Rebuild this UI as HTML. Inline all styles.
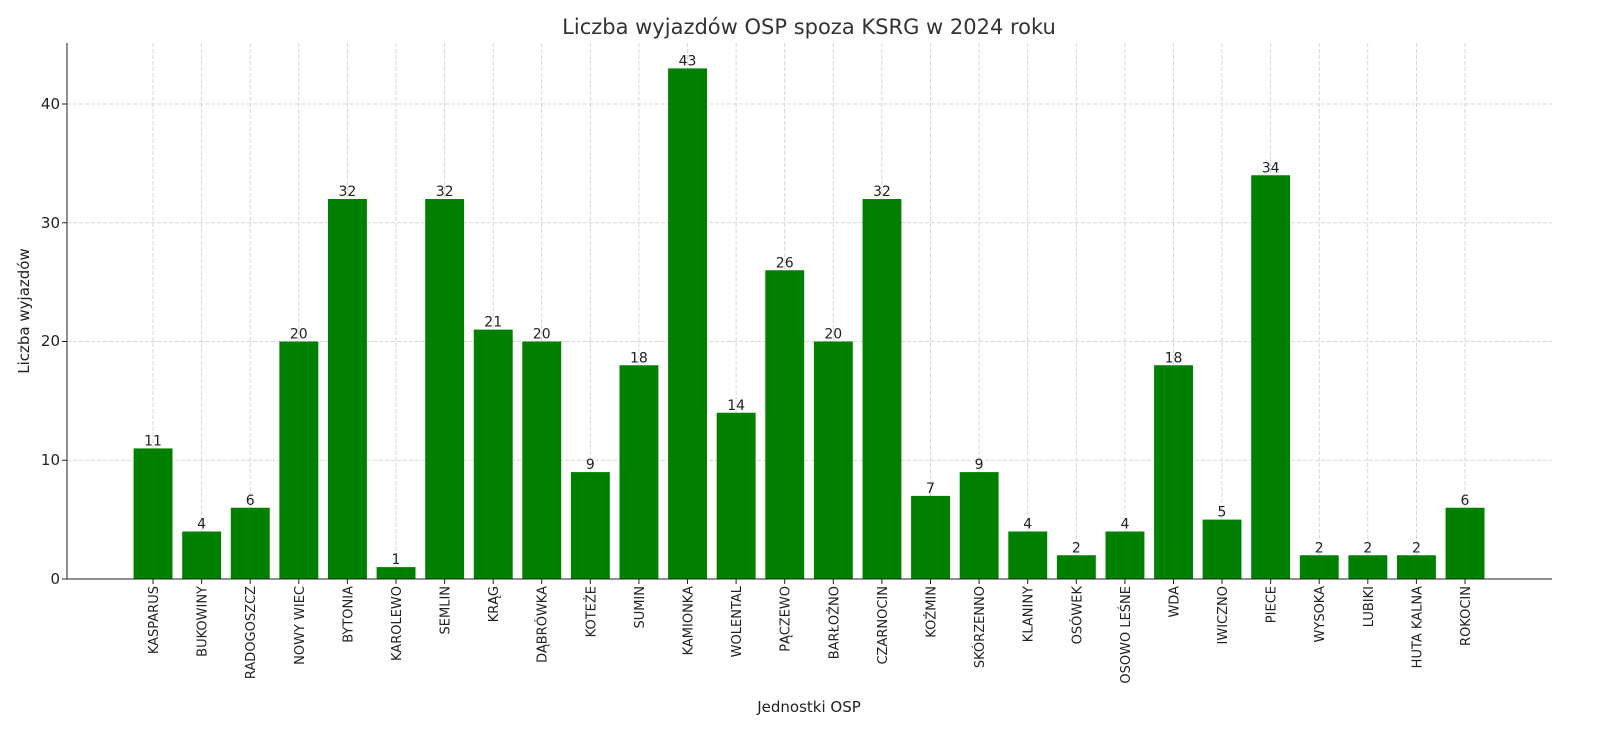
<!DOCTYPE html>
<html><head><meta charset="utf-8"><style>
body{margin:0;background:#fff}
svg{display:block;font-family:"DejaVu Sans","Liberation Sans",sans-serif}
.b rect{fill:#008000}
.b .v{font-size:14px;text-anchor:middle;fill:#222}
.b .n{font-size:13px;text-anchor:end;fill:#222}
.b line{stroke:#222}
</style></head><body>
<svg width="1600" height="746" viewBox="0 0 1600 746" xmlns="http://www.w3.org/2000/svg">
<rect width="1600" height="746" fill="#fff"/>
<g stroke="#cccccc" stroke-width="0.8" stroke-dasharray="4,2">
<line x1="67" x2="1552" y1="460.25" y2="460.25"/>
<line x1="67" x2="1552" y1="341.5" y2="341.5"/>
<line x1="67" x2="1552" y1="222.75" y2="222.75"/>
<line x1="67" x2="1552" y1="104" y2="104"/>
<line x1="153" x2="153" y1="43" y2="579"/><line x1="201.6" x2="201.6" y1="43" y2="579"/><line x1="250.2" x2="250.2" y1="43" y2="579"/><line x1="298.8" x2="298.8" y1="43" y2="579"/><line x1="347.4" x2="347.4" y1="43" y2="579"/><line x1="396" x2="396" y1="43" y2="579"/><line x1="444.6" x2="444.6" y1="43" y2="579"/><line x1="493.2" x2="493.2" y1="43" y2="579"/><line x1="541.7" x2="541.7" y1="43" y2="579"/><line x1="590.3" x2="590.3" y1="43" y2="579"/><line x1="638.9" x2="638.9" y1="43" y2="579"/><line x1="687.5" x2="687.5" y1="43" y2="579"/><line x1="736.1" x2="736.1" y1="43" y2="579"/><line x1="784.7" x2="784.7" y1="43" y2="579"/><line x1="833.3" x2="833.3" y1="43" y2="579"/><line x1="881.9" x2="881.9" y1="43" y2="579"/><line x1="930.5" x2="930.5" y1="43" y2="579"/><line x1="979.1" x2="979.1" y1="43" y2="579"/><line x1="1027.7" x2="1027.7" y1="43" y2="579"/><line x1="1076.3" x2="1076.3" y1="43" y2="579"/><line x1="1124.9" x2="1124.9" y1="43" y2="579"/><line x1="1173.5" x2="1173.5" y1="43" y2="579"/><line x1="1222" x2="1222" y1="43" y2="579"/><line x1="1270.6" x2="1270.6" y1="43" y2="579"/><line x1="1319.2" x2="1319.2" y1="43" y2="579"/><line x1="1367.8" x2="1367.8" y1="43" y2="579"/><line x1="1416.4" x2="1416.4" y1="43" y2="579"/><line x1="1465" x2="1465" y1="43" y2="579"/>
</g>
<g class="b" transform="translate(153,0)"><rect x="-19.4" y="448.4" width="38.9" height="130.6"/><text class="v" y="445.4">11</text><line y1="579" y2="584"/><text class="n" transform="translate(5,586) rotate(-90)">KASPARUS</text></g>
<g class="b" transform="translate(201.6,0)"><rect x="-19.4" y="531.5" width="38.9" height="47.5"/><text class="v" y="528.5">4</text><line y1="579" y2="584"/><text class="n" transform="translate(5,586) rotate(-90)">BUKOWINY</text></g>
<g class="b" transform="translate(250.2,0)"><rect x="-19.4" y="507.75" width="38.9" height="71.25"/><text class="v" y="504.75">6</text><line y1="579" y2="584"/><text class="n" transform="translate(5,586) rotate(-90)">RADOGOSZCZ</text></g>
<g class="b" transform="translate(298.8,0)"><rect x="-19.4" y="341.5" width="38.9" height="237.5"/><text class="v" y="338.5">20</text><line y1="579" y2="584"/><text class="n" transform="translate(5,586) rotate(-90)">NOWY WIEC</text></g>
<g class="b" transform="translate(347.4,0)"><rect x="-19.4" y="199" width="38.9" height="380"/><text class="v" y="196">32</text><line y1="579" y2="584"/><text class="n" transform="translate(5,586) rotate(-90)">BYTONIA</text></g>
<g class="b" transform="translate(396,0)"><rect x="-19.4" y="567.1" width="38.9" height="11.9"/><text class="v" y="564.1">1</text><line y1="579" y2="584"/><text class="n" transform="translate(5,586) rotate(-90)">KAROLEWO</text></g>
<g class="b" transform="translate(444.6,0)"><rect x="-19.4" y="199" width="38.9" height="380"/><text class="v" y="196">32</text><line y1="579" y2="584"/><text class="n" transform="translate(5,586) rotate(-90)">SEMLIN</text></g>
<g class="b" transform="translate(493.2,0)"><rect x="-19.4" y="329.6" width="38.9" height="249.4"/><text class="v" y="326.6">21</text><line y1="579" y2="584"/><text class="n" transform="translate(5,586) rotate(-90)">KRĄG</text></g>
<g class="b" transform="translate(541.7,0)"><rect x="-19.4" y="341.5" width="38.9" height="237.5"/><text class="v" y="338.5">20</text><line y1="579" y2="584"/><text class="n" transform="translate(5,586) rotate(-90)">DĄBRÓWKA</text></g>
<g class="b" transform="translate(590.3,0)"><rect x="-19.4" y="472.1" width="38.9" height="106.9"/><text class="v" y="469.1">9</text><line y1="579" y2="584"/><text class="n" transform="translate(5,586) rotate(-90)">KOTEŻE</text></g>
<g class="b" transform="translate(638.9,0)"><rect x="-19.4" y="365.25" width="38.9" height="213.75"/><text class="v" y="362.25">18</text><line y1="579" y2="584"/><text class="n" transform="translate(5,586) rotate(-90)">SUMIN</text></g>
<g class="b" transform="translate(687.5,0)"><rect x="-19.4" y="68.4" width="38.9" height="510.6"/><text class="v" y="65.4">43</text><line y1="579" y2="584"/><text class="n" transform="translate(5,586) rotate(-90)">KAMIONKA</text></g>
<g class="b" transform="translate(736.1,0)"><rect x="-19.4" y="412.75" width="38.9" height="166.25"/><text class="v" y="409.75">14</text><line y1="579" y2="584"/><text class="n" transform="translate(5,586) rotate(-90)">WOLENTAL</text></g>
<g class="b" transform="translate(784.7,0)"><rect x="-19.4" y="270.25" width="38.9" height="308.75"/><text class="v" y="267.25">26</text><line y1="579" y2="584"/><text class="n" transform="translate(5,586) rotate(-90)">PĄCZEWO</text></g>
<g class="b" transform="translate(833.3,0)"><rect x="-19.4" y="341.5" width="38.9" height="237.5"/><text class="v" y="338.5">20</text><line y1="579" y2="584"/><text class="n" transform="translate(5,586) rotate(-90)">BARŁOŻNO</text></g>
<g class="b" transform="translate(881.9,0)"><rect x="-19.4" y="199" width="38.9" height="380"/><text class="v" y="196">32</text><line y1="579" y2="584"/><text class="n" transform="translate(5,586) rotate(-90)">CZARNOCIN</text></g>
<g class="b" transform="translate(930.5,0)"><rect x="-19.4" y="495.9" width="38.9" height="83.1"/><text class="v" y="492.9">7</text><line y1="579" y2="584"/><text class="n" transform="translate(5,586) rotate(-90)">KOŹMIN</text></g>
<g class="b" transform="translate(979.1,0)"><rect x="-19.4" y="472.1" width="38.9" height="106.9"/><text class="v" y="469.1">9</text><line y1="579" y2="584"/><text class="n" transform="translate(5,586) rotate(-90)">SKÓRZENNO</text></g>
<g class="b" transform="translate(1027.7,0)"><rect x="-19.4" y="531.5" width="38.9" height="47.5"/><text class="v" y="528.5">4</text><line y1="579" y2="584"/><text class="n" transform="translate(5,586) rotate(-90)">KLANINY</text></g>
<g class="b" transform="translate(1076.3,0)"><rect x="-19.4" y="555.25" width="38.9" height="23.75"/><text class="v" y="552.25">2</text><line y1="579" y2="584"/><text class="n" transform="translate(5,586) rotate(-90)">OSÓWEK</text></g>
<g class="b" transform="translate(1124.9,0)"><rect x="-19.4" y="531.5" width="38.9" height="47.5"/><text class="v" y="528.5">4</text><line y1="579" y2="584"/><text class="n" transform="translate(5,586) rotate(-90)">OSOWO LEŚNE</text></g>
<g class="b" transform="translate(1173.5,0)"><rect x="-19.4" y="365.25" width="38.9" height="213.75"/><text class="v" y="362.25">18</text><line y1="579" y2="584"/><text class="n" transform="translate(5,586) rotate(-90)">WDA</text></g>
<g class="b" transform="translate(1222,0)"><rect x="-19.4" y="519.6" width="38.9" height="59.4"/><text class="v" y="516.6">5</text><line y1="579" y2="584"/><text class="n" transform="translate(5,586) rotate(-90)">IWICZNO</text></g>
<g class="b" transform="translate(1270.6,0)"><rect x="-19.4" y="175.25" width="38.9" height="403.75"/><text class="v" y="172.25">34</text><line y1="579" y2="584"/><text class="n" transform="translate(5,586) rotate(-90)">PIECE</text></g>
<g class="b" transform="translate(1319.2,0)"><rect x="-19.4" y="555.25" width="38.9" height="23.75"/><text class="v" y="552.25">2</text><line y1="579" y2="584"/><text class="n" transform="translate(5,586) rotate(-90)">WYSOKA</text></g>
<g class="b" transform="translate(1367.8,0)"><rect x="-19.4" y="555.25" width="38.9" height="23.75"/><text class="v" y="552.25">2</text><line y1="579" y2="584"/><text class="n" transform="translate(5,586) rotate(-90)">LUBIKI</text></g>
<g class="b" transform="translate(1416.4,0)"><rect x="-19.4" y="555.25" width="38.9" height="23.75"/><text class="v" y="552.25">2</text><line y1="579" y2="584"/><text class="n" transform="translate(5,586) rotate(-90)">HUTA KALNA</text></g>
<g class="b" transform="translate(1465,0)"><rect x="-19.4" y="507.75" width="38.9" height="71.25"/><text class="v" y="504.75">6</text><line y1="579" y2="584"/><text class="n" transform="translate(5,586) rotate(-90)">ROKOCIN</text></g>
<text x="809" y="34" font-size="21" text-anchor="middle" fill="#333">Liczba wyjazdów OSP spoza KSRG w 2024 roku</text>
<text x="809" y="712" font-size="15" text-anchor="middle" fill="#222">Jednostki OSP</text>
<text transform="translate(29,311) rotate(-90)" font-size="15" text-anchor="middle" fill="#222">Liczba wyjazdów</text>
<g font-size="15" text-anchor="end" fill="#222">
<text x="60" y="584">0</text><text x="60" y="465">10</text><text x="60" y="346">20</text><text x="60" y="228">30</text><text x="60" y="109">40</text>
</g>
<g stroke="#222" stroke-width="1">
<line x1="62" x2="67" y1="579" y2="579"/><line x1="62" x2="67" y1="460.25" y2="460.25"/><line x1="62" x2="67" y1="341.5" y2="341.5"/><line x1="62" x2="67" y1="222.75" y2="222.75"/><line x1="62" x2="67" y1="104" y2="104"/>
<line x1="67" x2="67" y1="43" y2="579"/>
<line x1="67" x2="1552" y1="579" y2="579"/>
</g>
</svg>
</body></html>
